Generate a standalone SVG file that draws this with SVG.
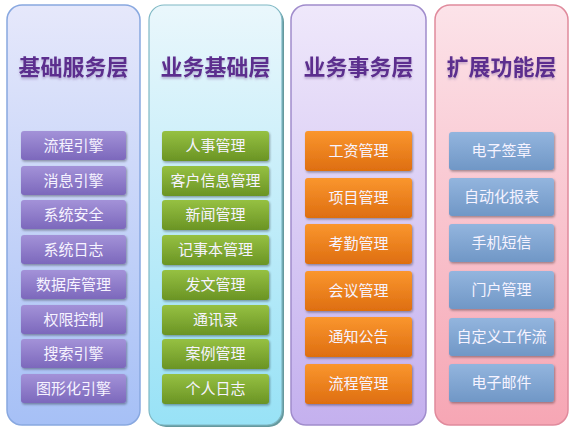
<svg xmlns="http://www.w3.org/2000/svg" width="573" height="431" viewBox="0 0 573 431">
<defs>
<linearGradient id="bg1" x1="0" y1="0" x2="0" y2="1"><stop offset="0" stop-color="#E6E8FB"/><stop offset="1" stop-color="#A6C0F6"/></linearGradient>
<linearGradient id="bg2" x1="0" y1="0" x2="0" y2="1"><stop offset="0" stop-color="#EAF7FC"/><stop offset="1" stop-color="#98E2F6"/></linearGradient>
<linearGradient id="bg3" x1="0" y1="0" x2="0" y2="1"><stop offset="0" stop-color="#EFE8FB"/><stop offset="1" stop-color="#C4B0EE"/></linearGradient>
<linearGradient id="bg4" x1="0" y1="0" x2="0" y2="1"><stop offset="0" stop-color="#FCE3E9"/><stop offset="1" stop-color="#F6A6B4"/></linearGradient>
<linearGradient id="b1" x1="0" y1="0" x2="0" y2="1"><stop offset="0" stop-color="#A392D8"/><stop offset="1" stop-color="#7C68BC"/></linearGradient>
<linearGradient id="b2" x1="0" y1="0" x2="0" y2="1"><stop offset="0" stop-color="#96C142"/><stop offset="1" stop-color="#6A9424"/></linearGradient>
<linearGradient id="b3" x1="0" y1="0" x2="0" y2="1"><stop offset="0" stop-color="#FA962E"/><stop offset="1" stop-color="#DE6E10"/></linearGradient>
<linearGradient id="b4" x1="0" y1="0" x2="0" y2="1"><stop offset="0" stop-color="#93B5DE"/><stop offset="1" stop-color="#7097C6"/></linearGradient>
<filter id="sh" x="-10%" y="-10%" width="125%" height="140%"><feDropShadow dx="1" dy="1.5" stdDeviation="1" flood-color="#000" flood-opacity="0.35"/></filter>
<filter id="tsh" x="-10%" y="-20%" width="120%" height="160%"><feDropShadow dx="0" dy="2" stdDeviation="1.2" flood-color="#8a6aa8" flood-opacity="0.45"/></filter>
</defs>
<style>
.hd{font-family:"Noto Sans CJK SC","Noto Sans",sans-serif;font-size:22px;font-weight:bold;fill:#5B2D8E;text-anchor:middle;}
.t{font-family:"Noto Sans CJK SC","Noto Sans",sans-serif;font-size:15px;fill:#F6F3FF;text-anchor:middle;}
.box{filter:url(#sh);}
</style>
<rect width="573" height="431" fill="#FFFFFF"/>

<g id="col1">
<rect x="7" y="5" width="133" height="420" rx="15" fill="url(#bg1)" stroke="#88A8E0" stroke-width="1.5"/>
<text class="hd" x="73.5" y="75" filter="url(#tsh)">基础服务层</text>
<g id="n1_1"><rect class="box" x="21" y="131" width="105" height="29" rx="3" fill="url(#b1)"/><text class="t" x="73.5" y="151">流程引擎</text></g>
<g id="n1_2"><rect class="box" x="21" y="166" width="105" height="29" rx="3" fill="url(#b1)"/><text class="t" x="73.5" y="186">消息引擎</text></g>
<g id="n1_3"><rect class="box" x="21" y="200" width="105" height="29" rx="3" fill="url(#b1)"/><text class="t" x="73.5" y="220">系统安全</text></g>
<g id="n1_4"><rect class="box" x="21" y="235" width="105" height="29" rx="3" fill="url(#b1)"/><text class="t" x="73.5" y="255">系统日志</text></g>
<g id="n1_5"><rect class="box" x="21" y="270" width="105" height="29" rx="3" fill="url(#b1)"/><text class="t" x="73.5" y="290">数据库管理</text></g>
<g id="n1_6"><rect class="box" x="21" y="305" width="105" height="29" rx="3" fill="url(#b1)"/><text class="t" x="73.5" y="325">权限控制</text></g>
<g id="n1_7"><rect class="box" x="21" y="339" width="105" height="29" rx="3" fill="url(#b1)"/><text class="t" x="73.5" y="359">搜索引擎</text></g>
<g id="n1_8"><rect class="box" x="21" y="374" width="105" height="29" rx="3" fill="url(#b1)"/><text class="t" x="73.5" y="394">图形化引擎</text></g>
</g>

<g id="col2">
<rect x="151" y="7" width="133" height="420" rx="15" fill="#3E7F86" opacity="0.8"/>
<rect x="149" y="5" width="133" height="420" rx="15" fill="url(#bg2)" stroke="#7FB8C4" stroke-width="1.2"/>
<text class="hd" x="215.5" y="75" filter="url(#tsh)">业务基础层</text>
<g id="n2_1"><rect class="box" x="162" y="131" width="107" height="30" rx="3" fill="url(#b2)"/><text class="t" x="215.5" y="151">人事管理</text></g>
<g id="n2_2"><rect class="box" x="162" y="166" width="107" height="30" rx="3" fill="url(#b2)"/><text class="t" x="215.5" y="186">客户信息管理</text></g>
<g id="n2_3"><rect class="box" x="162" y="200" width="107" height="30" rx="3" fill="url(#b2)"/><text class="t" x="215.5" y="220">新闻管理</text></g>
<g id="n2_4"><rect class="box" x="162" y="235" width="107" height="30" rx="3" fill="url(#b2)"/><text class="t" x="215.5" y="255">记事本管理</text></g>
<g id="n2_5"><rect class="box" x="162" y="270" width="107" height="30" rx="3" fill="url(#b2)"/><text class="t" x="215.5" y="290">发文管理</text></g>
<g id="n2_6"><rect class="box" x="162" y="305" width="107" height="30" rx="3" fill="url(#b2)"/><text class="t" x="215.5" y="325">通讯录</text></g>
<g id="n2_7"><rect class="box" x="162" y="339" width="107" height="30" rx="3" fill="url(#b2)"/><text class="t" x="215.5" y="359">案例管理</text></g>
<g id="n2_8"><rect class="box" x="162" y="374" width="107" height="30" rx="3" fill="url(#b2)"/><text class="t" x="215.5" y="394">个人日志</text></g>
</g>

<g id="col3">
<rect x="291" y="5" width="135" height="420" rx="15" fill="url(#bg3)" stroke="#A08CCC" stroke-width="1.5"/>
<text class="hd" x="358.5" y="75" filter="url(#tsh)">业务事务层</text>
<g id="n3_1"><rect class="box" x="305" y="131" width="107" height="40" rx="3" fill="url(#b3)"/><text class="t" x="358.5" y="156">工资管理</text></g>
<g id="n3_2"><rect class="box" x="305" y="178" width="107" height="40" rx="3" fill="url(#b3)"/><text class="t" x="358.5" y="203">项目管理</text></g>
<g id="n3_3"><rect class="box" x="305" y="224" width="107" height="40" rx="3" fill="url(#b3)"/><text class="t" x="358.5" y="249">考勤管理</text></g>
<g id="n3_4"><rect class="box" x="305" y="271" width="107" height="40" rx="3" fill="url(#b3)"/><text class="t" x="358.5" y="296">会议管理</text></g>
<g id="n3_5"><rect class="box" x="305" y="317" width="107" height="40" rx="3" fill="url(#b3)"/><text class="t" x="358.5" y="342">通知公告</text></g>
<g id="n3_6"><rect class="box" x="305" y="364" width="107" height="40" rx="3" fill="url(#b3)"/><text class="t" x="358.5" y="389">流程管理</text></g>
</g>

<g id="col4">
<rect x="435" y="5" width="133" height="420" rx="15" fill="url(#bg4)" stroke="#E08A9C" stroke-width="1.5"/>
<text class="hd" x="501.5" y="75" filter="url(#tsh)">扩展功能层</text>
<g id="n4_1"><rect class="box" x="449" y="132" width="105" height="38" rx="3" fill="url(#b4)"/><text class="t" x="501.5" y="156">电子签章</text></g>
<g id="n4_2"><rect class="box" x="449" y="178" width="105" height="38" rx="3" fill="url(#b4)"/><text class="t" x="501.5" y="202">自动化报表</text></g>
<g id="n4_3"><rect class="box" x="449" y="224" width="105" height="38" rx="3" fill="url(#b4)"/><text class="t" x="501.5" y="248">手机短信</text></g>
<g id="n4_4"><rect class="box" x="449" y="271" width="105" height="38" rx="3" fill="url(#b4)"/><text class="t" x="501.5" y="295">门户管理</text></g>
<g id="n4_5"><rect class="box" x="449" y="318" width="105" height="38" rx="3" fill="url(#b4)"/><text class="t" x="501.5" y="342">自定义工作流</text></g>
<g id="n4_6"><rect class="box" x="449" y="364" width="105" height="38" rx="3" fill="url(#b4)"/><text class="t" x="501.5" y="388">电子邮件</text></g>
</g>
</svg>
